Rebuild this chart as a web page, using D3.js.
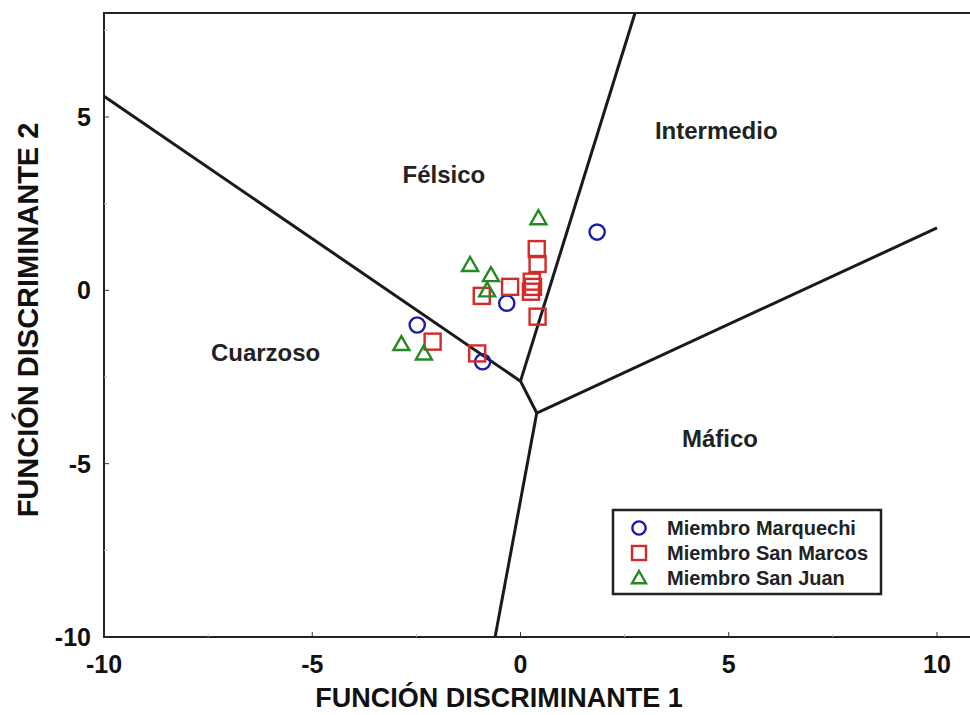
<!DOCTYPE html>
<html>
<head>
<meta charset="utf-8">
<script src="https://cdn.jsdelivr.net/npm/d3@7"></script>
<style>
body { margin: 0; background: #fff; }
svg text { font-family: "Liberation Sans", Arial, sans-serif; }
</style>
</head>
<body>
<script>
// data
var marquechi = [[1.84, 1.68], [-0.33, -0.37], [-2.48, -1.0], [-0.91, -2.06]];
var sanMarcos = [[0.39, 1.19], [0.41, 0.76], [-0.25, 0.1], [-0.93, -0.16], [0.27, 0.25],
                 [0.3, 0.1], [0.25, -0.04], [0.41, -0.76], [-2.11, -1.48], [-1.04, -1.82]];
var sanJuan = [[0.43, 2.08], [-1.21, 0.73], [-0.71, 0.44], [-0.8, 0.0], [-2.86, -1.55], [-2.32, -1.82]];

// field boundaries (discriminant diagram)
var boundaryLines = [
  [[-10, 5.6], [0.0, -2.62]],
  [[0.0, -2.62], [2.75, 8.0]],
  [[0.0, -2.62], [0.39, -3.54]],
  [[0.39, -3.54], [10.0, 1.8]],
  [[0.39, -3.54], [-0.61, -10]]
];
var fieldNames = ["Félsico", "Intermedio", "Cuarzoso", "Máfico"];
var fieldPos = [[-1.84, 3.35], [4.7, 4.63], [-6.12, -1.78], [4.79, -4.26]];

var xTicks = [-10, -5, 0, 5, 10];
var yTicks = [-10, -5, 0, 5];
var legendNames = ["Miembro Marquechi", "Miembro San Marcos", "Miembro San Juan"];

var W = 970, H = 715;
var x = d3.scaleLinear().domain([-10, 10]).range([104, 937]);
var y = d3.scaleLinear().domain([-10, 8]).range([637, 13]);

var svg = d3.select("body").append("svg")
  .attr("width", W).attr("height", H);

// frame (right side falls off the image)
svg.append("rect")
  .attr("x", x(-10)).attr("y", y(8))
  .attr("width", 900).attr("height", y(-10) - y(8))
  .attr("fill", "none").attr("stroke", "#222").attr("stroke-width", 2);

// ticks, inward
var minorX = d3.range(-10, 10.1, 2.5).filter(d => xTicks.indexOf(d) < 0);
var minorY = d3.range(-10, 8, 2.5).filter(d => yTicks.indexOf(d) < 0);

svg.selectAll(".xt").data(xTicks).enter().append("line")
  .attr("x1", d => x(d)).attr("x2", d => x(d))
  .attr("y1", y(-10)).attr("y2", y(-10) - 5)
  .attr("stroke", "#333").attr("stroke-width", 1);
svg.selectAll(".xm").data(minorX).enter().append("line")
  .attr("x1", d => x(d)).attr("x2", d => x(d))
  .attr("y1", y(-10)).attr("y2", y(-10) - 3)
  .attr("stroke", "#bbb").attr("stroke-width", 1);
svg.selectAll(".yt").data(yTicks).enter().append("line")
  .attr("x1", x(-10)).attr("x2", x(-10) + 5)
  .attr("y1", d => y(d)).attr("y2", d => y(d))
  .attr("stroke", "#333").attr("stroke-width", 1);
svg.selectAll(".ym").data(minorY).enter().append("line")
  .attr("x1", x(-10)).attr("x2", x(-10) + 3)
  .attr("y1", d => y(d)).attr("y2", d => y(d))
  .attr("stroke", "#bbb").attr("stroke-width", 1);

// tick labels
svg.selectAll(".xl").data(xTicks).enter().append("text")
  .attr("x", d => x(d)).attr("y", 673)
  .attr("text-anchor", "middle")
  .attr("font-size", 25).attr("font-weight", "bold").attr("fill", "#111")
  .text(d => d);
svg.selectAll(".yl").data(yTicks).enter().append("text")
  .attr("x", 91).attr("y", d => y(d) + 9)
  .attr("text-anchor", "end")
  .attr("font-size", 25).attr("font-weight", "bold").attr("fill", "#111")
  .text(d => d);

// axis titles
svg.append("text")
  .attr("x", 499).attr("y", 707)
  .attr("text-anchor", "middle")
  .attr("font-size", 27).attr("font-weight", "bold").attr("fill", "#111")
  .text("FUNCIÓN DISCRIMINANTE 1");
svg.append("text")
  .attr("transform", "translate(38,320) rotate(-90)")
  .attr("text-anchor", "middle")
  .attr("font-size", 29).attr("font-weight", "bold").attr("fill", "#111")
  .text("FUNCIÓN DISCRIMINANTE 2");

// boundaries
var line = d3.line().x(d => x(d[0])).y(d => y(d[1]));
svg.selectAll(".bnd").data(boundaryLines).enter().append("path")
  .attr("d", line)
  .attr("fill", "none").attr("stroke", "#1a1a1a").attr("stroke-width", 3);

// field names
svg.selectAll(".fld").data(fieldNames).enter().append("text")
  .attr("x", (d, i) => x(fieldPos[i][0]))
  .attr("y", (d, i) => y(fieldPos[i][1]) + 9)
  .attr("text-anchor", "middle")
  .attr("font-size", 24).attr("font-weight", "bold").attr("fill", "#222")
  .text(d => d);

// symbols
var blue = "#1c1ca8", red = "#d42a2a", green = "#238a23";

function drawTriangle(g, cx, cy, s) {
  g.append("path")
    .attr("d", "M" + cx + "," + (cy - s) + "L" + (cx + s) + "," + (cy + s * 0.75) + "L" + (cx - s) + "," + (cy + s * 0.75) + "Z")
    .attr("fill", "none").attr("stroke", green).attr("stroke-width", 2.4);
}
function drawSquare(g, cx, cy, s) {
  g.append("rect")
    .attr("x", cx - s).attr("y", cy - s).attr("width", 2 * s).attr("height", 2 * s)
    .attr("fill", "none").attr("stroke", red).attr("stroke-width", 2.4);
}
function drawCircle(g, cx, cy, s) {
  g.append("circle")
    .attr("cx", cx).attr("cy", cy).attr("r", s * 0.95)
    .attr("fill", "none").attr("stroke", blue).attr("stroke-width", 2.4);
}

var pts = svg.append("g");
marquechi.forEach(d => drawCircle(pts, x(d[0]), y(d[1]), 8));
sanMarcos.forEach(d => drawSquare(pts, x(d[0]), y(d[1]), 8));
sanJuan.forEach(d => drawTriangle(pts, x(d[0]), y(d[1]), 8));

// legend
var lg = svg.append("g");
lg.append("rect")
  .attr("x", 613).attr("y", 510).attr("width", 268).attr("height", 84)
  .attr("fill", "#fff").attr("stroke", "#222").attr("stroke-width", 2.5);
var drawers = [drawCircle, drawSquare, drawTriangle];
legendNames.forEach(function(name, i) {
  var ly = 528 + i * 25;
  drawers[i](lg, 639, ly, 7);
  lg.append("text")
    .attr("x", 667).attr("y", ly + 7)
    .attr("font-size", 20).attr("font-weight", "bold").attr("fill", "#222")
    .text(name);
});
</script>
</body>
</html>
